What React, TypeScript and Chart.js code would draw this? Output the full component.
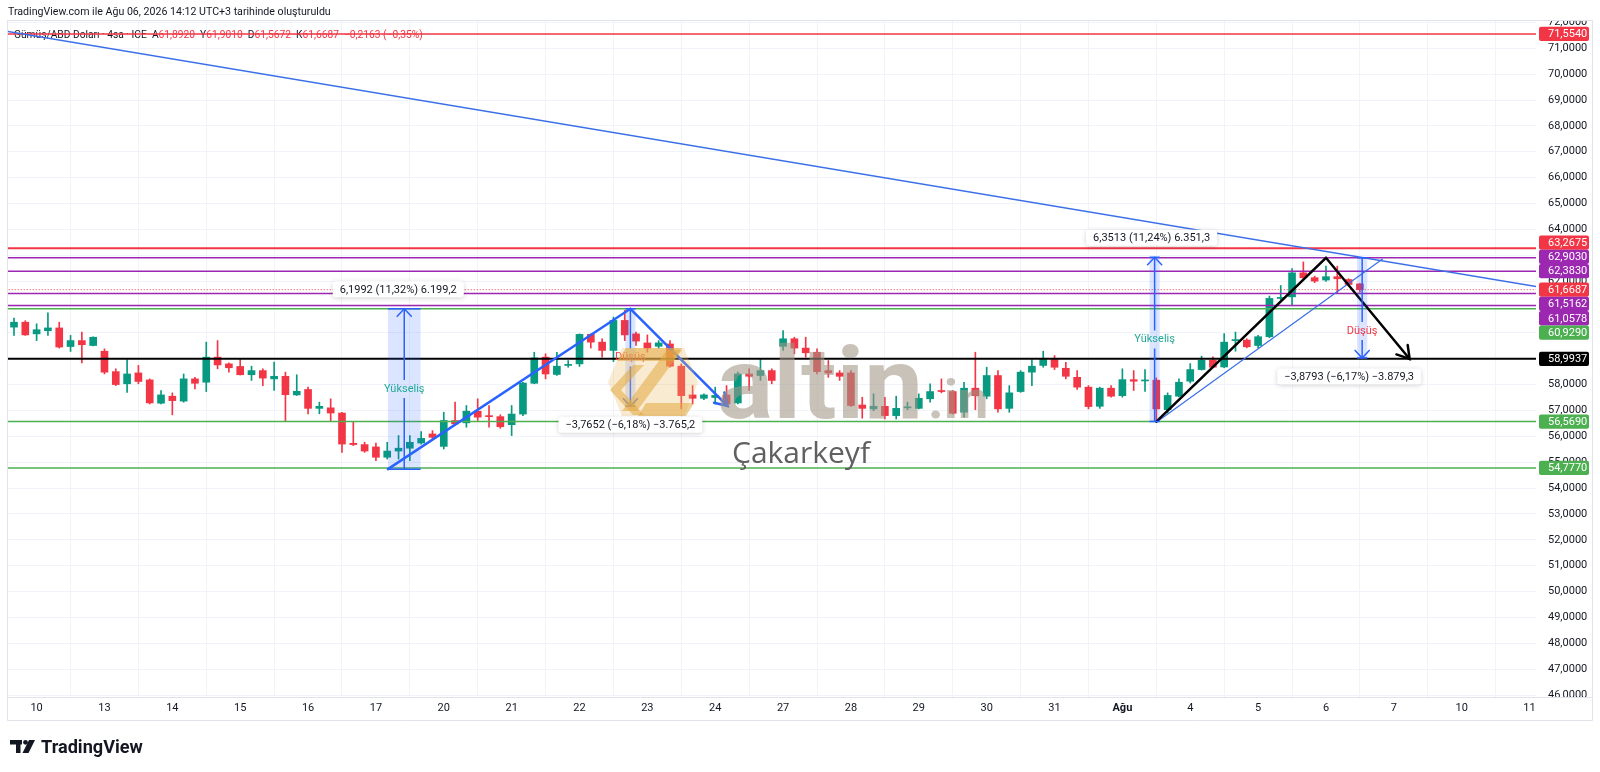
import { useEffect, useRef } from 'react';
import { Chart, registerables } from 'chart.js';

Chart.register(...registerables);

// ---------------- DATA ----------------
const OPEN = [
  60.22, 60.41, 59.96, 60.08, 60.19, 59.47, 59.70, 59.51, 59.29, 58.50,
  58.03, 58.45, 58.18, 57.28, 57.55, 57.36, 58.22, 58.09, 59.06, 58.80,
  58.70, 58.38, 58.54, 58.22, 58.32, 57.60, 57.81, 57.08, 57.10, 56.90,
  55.73, 55.68, 55.59, 55.19, 55.43, 55.54, 55.74, 56.09, 55.61, 56.61,
  56.52, 56.97, 56.78, 56.76, 56.45, 56.86, 58.05, 59.06, 58.39, 58.74,
  58.80, 59.94, 59.64, 59.32, 60.48, 59.96, 59.61, 59.48, 59.57, 58.71,
  57.60, 57.47, 57.50, 57.60, 57.29, 58.41, 58.35, 58.54, 59.48, 59.77,
  59.41, 59.25, 58.54, 58.45, 58.45, 57.21, 57.06, 57.16, 56.80, 57.10,
  57.08, 57.45, 57.77, 57.73, 56.93, 57.86, 57.55, 58.35, 57.08, 57.73,
  58.48, 58.74, 58.97, 58.63, 58.28, 57.90, 57.16, 57.86, 57.57, 58.19,
  58.14, 58.17, 57.03, 57.55, 58.13, 58.58, 58.94, 58.68, 59.70, 59.72,
  59.51, 59.85, 61.33, 61.39, 62.32, 62.13, 62.04, 62.17, 62.06, 61.892,
];
const HIGH = [
  60.57, 60.47, 60.35, 60.77, 60.41, 59.90, 60.03, 59.85, 59.38, 58.61,
  58.97, 58.74, 58.22, 57.77, 57.68, 58.41, 58.28, 59.64, 59.70, 58.84,
  58.99, 58.71, 58.61, 58.87, 58.48, 58.38, 57.90, 57.32, 57.45, 56.93,
  56.54, 55.77, 55.74, 55.77, 56.03, 56.03, 56.18, 56.22, 56.93, 57.32,
  57.19, 57.45, 57.19, 56.83, 57.19, 58.09, 59.25, 59.19, 59.25, 58.93,
  59.96, 59.96, 59.77, 60.61, 60.87, 60.03, 59.92, 59.70, 59.70, 58.80,
  57.96, 57.64, 57.90, 57.96, 58.48, 58.61, 58.99, 58.61, 60.09, 59.83,
  59.83, 59.38, 58.93, 58.54, 58.54, 57.51, 57.64, 57.51, 57.55, 57.32,
  57.64, 58.03, 58.22, 57.77, 58.09, 59.25, 58.67, 58.54, 57.96, 58.54,
  58.97, 59.29, 59.12, 58.86, 58.54, 57.96, 57.90, 57.96, 58.61, 58.54,
  58.58, 58.26, 57.68, 58.22, 58.81, 59.10, 59.07, 59.97, 60.03, 59.77,
  59.90, 61.42, 61.83, 62.48, 62.74, 62.19, 62.58, 62.58, 62.09, 61.901,
];
const LOW = [
  59.90, 59.90, 59.70, 59.90, 59.41, 59.28, 58.84, 59.49, 58.41, 57.96,
  57.70, 58.03, 57.25, 57.25, 56.83, 57.32, 57.83, 57.73, 58.61, 58.48,
  58.37, 58.16, 57.96, 57.77, 56.57, 57.58, 56.87, 56.87, 56.57, 55.38,
  55.64, 55.38, 55.06, 55.12, 55.12, 55.06, 55.70, 55.90, 55.51, 56.42,
  56.35, 56.61, 56.35, 56.31, 56.03, 56.80, 58.03, 58.22, 58.35, 58.67,
  58.70, 59.41, 59.06, 58.89, 59.70, 59.51, 59.25, 59.41, 58.67, 57.06,
  57.25, 57.42, 57.25, 57.19, 57.25, 57.77, 58.16, 58.03, 59.32, 59.19,
  59.06, 58.41, 58.28, 58.16, 57.16, 56.70, 56.99, 56.67, 56.67, 57.03,
  57.06, 57.32, 57.68, 56.86, 56.74, 57.03, 57.45, 56.93, 56.93, 57.70,
  57.96, 58.67, 58.58, 58.22, 57.81, 57.06, 57.08, 57.51, 57.51, 57.77,
  57.74, 56.57, 56.90, 57.52, 58.06, 58.56, 58.64, 58.65, 59.29, 59.42,
  59.42, 59.81, 61.27, 61.06, 62.06, 61.94, 61.99, 61.55, 61.81, 61.5672,
];
const CLOSE = [
  60.41, 59.92, 60.12, 60.19, 59.45, 59.70, 59.54, 59.83, 58.48, 58.00,
  58.41, 58.12, 57.29, 57.60, 57.38, 58.22, 58.05, 59.06, 58.76, 58.65,
  58.38, 58.54, 58.25, 58.32, 57.61, 57.74, 57.08, 57.16, 56.90, 55.70,
  55.68, 55.43, 55.19, 55.43, 55.54, 55.77, 55.92, 55.96, 56.61, 56.48,
  56.97, 56.74, 56.76, 56.37, 56.86, 58.06, 59.03, 58.41, 58.71, 58.78,
  59.94, 59.64, 59.32, 60.48, 59.92, 59.68, 59.41, 59.61, 58.71, 57.57,
  57.47, 57.60, 57.58, 57.25, 58.41, 58.32, 58.54, 58.16, 59.77, 59.41,
  59.23, 58.50, 58.45, 58.32, 57.19, 57.08, 57.16, 56.80, 57.08, 57.13,
  57.47, 57.73, 57.73, 56.89, 57.86, 57.57, 58.35, 57.06, 57.68, 58.48,
  58.71, 58.99, 58.67, 58.32, 57.90, 57.15, 57.86, 57.55, 58.19, 58.13,
  58.17, 57.06, 57.58, 58.09, 58.58, 58.94, 58.67, 59.64, 59.72, 59.46,
  59.85, 61.33, 61.37, 62.32, 62.13, 62.00, 62.17, 62.09, 61.87, 61.6687,
];

// time axis: bar index of the first 4h bar of each day, and its label
const DAY_TICKS = [2, 8, 14, 20, 26, 32, 38, 44, 50, 56, 62, 68, 74, 80, 86, 92, 98, 104, 110, 116, 122, 128, 134];
const DAY_LABELS = ['10', '13', '14', '15', '16', '17', '20', '21', '22', '23', '24', '27', '28', '29', '30', '31', 'Ağu', '4', '5', '6', '7', '10', '11'];

const PRICE_TICKS = [46, 47, 48, 49, 50, 51, 52, 53, 54, 55, 56, 57, 58, 59, 60, 61, 62, 63, 64, 65, 66, 67, 68, 69, 70, 71, 72];

// horizontal levels
const LEVELS = [71.554, 63.2675, 62.903, 62.383, 61.5162, 61.0578, 60.929, 58.9937, 56.569, 54.777];
const LEVEL_COLORS = ['#f23645', '#f23645', '#9c27b0', '#9c27b0', '#9c27b0', '#9c27b0', '#4caf50', '#000000', '#4caf50', '#4caf50'];
const LAST_PRICE = 61.6687;

// drawings (bar index, price)
const LONG_TREND_X = [-0.54, 134.69];
const LONG_TREND_Y = [71.65, 61.78];
const BLUE_ZIG_X = [33.06, 54.5, 63.1];
const BLUE_ZIG_Y = [54.7298, 60.929, 57.17];
const BLACK_ZIG_X = [101, 116, 123.4];
const BLACK_ZIG_Y = [56.569, 62.903, 58.99];
const THIN_LINE_X = [101.1, 121.0];
const THIN_LINE_Y = [56.569, 62.85];

// price range measurements
const MEASURE_X0 = [33.06, 54.05, 100.4, 118.75];
const MEASURE_X1 = [35.95, 54.95, 101.3, 119.65];
const MEASURE_FROM = [54.7298, 60.929, 56.569, 62.903];
const MEASURE_TO = [60.929, 57.1638, 62.9203, 59.0237];
const MEASURE_NAME = ['Yükseliş', 'Düşüş', 'Yükseliş', 'Düşüş'];
const MEASURE_TEXT = ['6,1992 (11,32%) 6.199,2', '−3,7652 (−6,18%) −3.765,2', '6,3513 (11,24%) 6.351,3', '−3,8793 (−6,17%) −3.879,3'];

const HEADER_TEXT = 'TradingView.com ile Ağu 06, 2026 14:12 UTC+3 tarihinde oluşturuldu';
const SYMBOL_TEXT = 'Gümüş/ABD Doları · 4sa · ICE';
const CHANGE_TEXT = '−0,2163 (−0,35%)';

// ---------------- STYLE / LAYOUT ----------------
const FONT = 'Roboto, "Noto Sans", sans-serif';
const GREEN = '#089981';
const RED = '#f23645';
const BLUE = '#2962ff';
const TEXT = '#131722';
const PANE_TOP = 21;
const PANE_BOTTOM = 697;
const PANE_RIGHT = 1536;
const AXIS_RIGHT = 1592;
const TIME_AXIS_BOTTOM = 720;
const X_MIN = -0.53;
const X_MAX = 134.57;
const PX_PER_UNIT = 25.87;
const Y_MAX = 72 + (22.4 - PANE_TOP) / PX_PER_UNIT;
const Y_MIN = 46 - (PANE_BOTTOM - 695) / PX_PER_UNIT;

const fmt4 = (v: number) => v.toFixed(4).replace('.', ',');

function arrowHead(ctx: any, x0: number, y0: number, x1: number, y1: number, len: number, spread: number) {
  const a = Math.atan2(y1 - y0, x1 - x0);
  ctx.beginPath();
  ctx.moveTo(x1 - len * Math.cos(a - spread), y1 - len * Math.sin(a - spread));
  ctx.lineTo(x1, y1);
  ctx.lineTo(x1 - len * Math.cos(a + spread), y1 - len * Math.sin(a + spread));
  ctx.stroke();
}

function fitFont(ctx: any, text: string, size: number, weight: string, maxW: number, family = FONT) {
  ctx.font = `${weight} ${size}px ${family}`;
  const w = ctx.measureText(text).width;
  size = (size * maxW) / w;
  ctx.font = `${weight} ${size}px ${family}`;
  return size;
}

const overlayPlugin = {
  id: 'overlay',
  beforeDatasetsDraw(chart: any) {
    const ctx = chart.ctx;
    const n = CLOSE.length - 1;
    const segs: [string, string][] = [
      [SYMBOL_TEXT, TEXT],
      ['  A', TEXT], [fmt4(OPEN[n]), RED],
      ['  Y', TEXT], [fmt4(HIGH[n]), RED],
      ['  D', TEXT], [fmt4(LOW[n]), RED],
      ['  K', TEXT], [fmt4(CLOSE[n]), RED],
      ['  ' + CHANGE_TEXT, RED],
    ];
    ctx.save();
    const full = segs.map((s) => s[0]).join('');
    fitFont(ctx, full, 10.5, 'normal', 409);
    ctx.textBaseline = 'middle';
    ctx.textAlign = 'left';
    let x = 14;
    for (const [t, c] of segs) {
      ctx.fillStyle = c;
      ctx.fillText(t, x, 35);
      x += ctx.measureText(t).width;
    }
    ctx.restore();
  },
  afterDatasetsDraw(chart: any) {
    const ctx = chart.ctx;
    const xs = chart.scales.x;
    const ys = chart.scales.y;
    const area = chart.chartArea;
    ctx.save();
    ctx.beginPath();
    ctx.rect(area.left, area.top, area.right - area.left, area.bottom - area.top);
    ctx.clip();

    // zigzag arrowheads
    ctx.lineCap = 'round';
    ctx.strokeStyle = BLUE;
    ctx.lineWidth = 2.5;
    {
      const k = BLUE_ZIG_X.length - 1;
      arrowHead(ctx, xs.getPixelForValue(BLUE_ZIG_X[k - 1]), ys.getPixelForValue(BLUE_ZIG_Y[k - 1]),
        xs.getPixelForValue(BLUE_ZIG_X[k]), ys.getPixelForValue(BLUE_ZIG_Y[k]), 14, 0.55);
    }
    ctx.strokeStyle = '#000';
    {
      const k = BLACK_ZIG_X.length - 1;
      arrowHead(ctx, xs.getPixelForValue(BLACK_ZIG_X[k - 1]), ys.getPixelForValue(BLACK_ZIG_Y[k - 1]),
        xs.getPixelForValue(BLACK_ZIG_X[k]), ys.getPixelForValue(BLACK_ZIG_Y[k]), 14, 0.55);
    }

    // measurements: rect, arrow, name
    const fracs = [0.5, 0.5, 0.5, 0.73];
    const boxes: any[] = [];
    for (let i = 0; i < MEASURE_FROM.length; i++) {
      const xa = xs.getPixelForValue(MEASURE_X0[i]);
      const xb = xs.getPixelForValue(MEASURE_X1[i]);
      const yf = ys.getPixelForValue(MEASURE_FROM[i]);
      const yt = ys.getPixelForValue(MEASURE_TO[i]);
      const xc = (xa + xb) / 2;
      const up = MEASURE_TO[i] > MEASURE_FROM[i];
      ctx.fillStyle = 'rgba(41,98,255,0.17)';
      ctx.fillRect(xa, Math.min(yf, yt), xb - xa, Math.abs(yt - yf));
      ctx.strokeStyle = BLUE;
      ctx.lineWidth = 1.5;
      ctx.lineCap = 'butt';
      ctx.beginPath();
      ctx.moveTo(xa, yf); ctx.lineTo(xb, yf);
      ctx.moveTo(xa, yt); ctx.lineTo(xb, yt);
      ctx.stroke();
      const yl = yf + (yt - yf) * fracs[i];
      const gap = 9;
      const dir = up ? -1 : 1;
      ctx.beginPath();
      ctx.moveTo(xc, yf);
      ctx.lineTo(xc, yl - dir * gap);
      ctx.moveTo(xc, yl + dir * gap);
      ctx.lineTo(xc, yt);
      ctx.stroke();
      arrowHead(ctx, xc, yf, xc, yt, 11, 0.75);
      ctx.font = `11px ${FONT}`;
      ctx.textAlign = 'center';
      ctx.textBaseline = 'middle';
      ctx.fillStyle = up ? '#22ab94' : RED;
      ctx.fillText(MEASURE_NAME[i], xc, yl);
      boxes.push({ xc, y: up ? Math.min(yf, yt) - 19.5 : Math.max(yf, yt) + 18.5, text: MEASURE_TEXT[i], i });
    }

    // watermark emblem
    const poly = (pts: number[][], color: string) => {
      ctx.fillStyle = color;
      ctx.beginPath();
      ctx.moveTo(pts[0][0], pts[0][1]);
      for (let k = 1; k < pts.length; k++) ctx.lineTo(pts[k][0], pts[k][1]);
      ctx.closePath();
      ctx.fill();
    };
    const light = 'rgba(234,190,105,0.3)';
    const dark = 'rgba(226,168,62,0.55)';
    poly([[622, 348], [684, 348], [698, 382], [684, 416], [622, 416], [608, 382]], light);
    poly([[626, 348], [682, 348], [673, 361], [617, 361]], dark);
    poly([[667, 350], [682, 350], [637, 411], [622, 411]], dark);
    poly([[633, 365], [644, 365], [621, 390], [644, 415], [633, 415], [610, 390]], dark);
    poly([[646, 403], [694, 403], [686, 416], [638, 416]], dark);

    // watermark text
    ctx.save();
    ctx.fillStyle = 'rgba(160,150,134,0.58)';
    ctx.textBaseline = 'alphabetic';
    ctx.textAlign = 'left';
    ctx.font = `bold 100px ${FONT}`;
    const wA = ctx.measureText('altin').width;
    ctx.translate(717, 418);
    ctx.scale(206 / wA, 1);
    ctx.fillText('altin', 0, 0);
    ctx.restore();
    ctx.save();
    ctx.fillStyle = 'rgba(160,150,134,0.58)';
    ctx.font = `bold 54px ${FONT}`;
    ctx.textAlign = 'left';
    ctx.textBaseline = 'alphabetic';
    ctx.fillText('.in', 928, 418);
    ctx.restore();

    ctx.save();
    ctx.fillStyle = '#606060';
    ctx.textAlign = 'center';
    ctx.textBaseline = 'alphabetic';
    fitFont(ctx, 'Çakarkeyf', 28, 'normal', 138, '"Open Sans", Roboto, sans-serif');
    ctx.fillText('Çakarkeyf', 801, 463);
    ctx.restore();

    // measurement info boxes
    const shifts = [-6, 0, -3, -13];
    for (const b of boxes) {
      ctx.font = `11px ${FONT}`;
      const w = ctx.measureText(b.text).width + 14;
      const h = 16;
      const cx = b.xc + shifts[b.i];
      ctx.save();
      ctx.shadowColor = 'rgba(0,0,0,0.18)';
      ctx.shadowBlur = 5;
      ctx.shadowOffsetY = 1;
      ctx.fillStyle = '#ffffff';
      ctx.beginPath();
      ctx.roundRect(cx - w / 2, b.y - h / 2, w, h, 3);
      ctx.fill();
      ctx.restore();
      ctx.fillStyle = TEXT;
      ctx.textAlign = 'center';
      ctx.textBaseline = 'middle';
      ctx.fillText(b.text, cx, b.y + 0.5);
    }
    ctx.restore();
  },
  afterDraw(chart: any) {
    const ctx = chart.ctx;
    const ys = chart.scales.y;
    ctx.save();
    // clip axis labels outside pane
    ctx.fillStyle = '#ffffff';
    ctx.fillRect(PANE_RIGHT + 1, 0, AXIS_RIGHT - PANE_RIGHT - 1, PANE_TOP);
    ctx.fillRect(PANE_RIGHT + 1, PANE_BOTTOM, AXIS_RIGHT - PANE_RIGHT - 1, TIME_AXIS_BOTTOM - PANE_BOTTOM);

    // level labels on price axis
    const LBL_H = 14.3;
    const items = LEVELS.map((v, i) => ({ v, color: LEVEL_COLORS[i], y: ys.getPixelForValue(v), fixed: false }));
    items.push({ v: LAST_PRICE, color: RED, y: ys.getPixelForValue(LAST_PRICE), fixed: true });
    items.sort((a, b) => a.y - b.y);
    const p = items.findIndex((it) => it.fixed);
    for (let i = p - 1; i >= 0; i--) items[i].y = Math.min(items[i].y, items[i + 1].y - LBL_H);
    for (let i = p + 1; i < items.length; i++) items[i].y = Math.max(items[i].y, items[i - 1].y + LBL_H);
    ctx.font = `11px ${FONT}`;
    ctx.textBaseline = 'middle';
    ctx.textAlign = 'left';
    for (const it of items) {
      ctx.fillStyle = it.color;
      ctx.beginPath();
      ctx.roundRect(PANE_RIGHT + 3, it.y - LBL_H / 2, 50, LBL_H, 2);
      ctx.fill();
      ctx.fillStyle = '#ffffff';
      ctx.fillText(fmt4(it.v), PANE_RIGHT + 12, it.y + 0.5);
    }

    // borders
    ctx.strokeStyle = '#e0e3eb';
    ctx.lineWidth = 1;
    ctx.beginPath();
    ctx.moveTo(7.5, PANE_TOP - 0.5); ctx.lineTo(AXIS_RIGHT + 0.5, PANE_TOP - 0.5);
    ctx.moveTo(7.5, PANE_BOTTOM + 0.5); ctx.lineTo(AXIS_RIGHT + 0.5, PANE_BOTTOM + 0.5);
    ctx.moveTo(7.5, TIME_AXIS_BOTTOM + 0.5); ctx.lineTo(AXIS_RIGHT + 0.5, TIME_AXIS_BOTTOM + 0.5);
    ctx.moveTo(7.5, PANE_TOP - 0.5); ctx.lineTo(7.5, TIME_AXIS_BOTTOM + 0.5);
    ctx.moveTo(AXIS_RIGHT + 0.5, PANE_TOP - 0.5); ctx.lineTo(AXIS_RIGHT + 0.5, TIME_AXIS_BOTTOM + 0.5);
    ctx.stroke();

    // header
    ctx.fillStyle = TEXT;
    ctx.textAlign = 'left';
    ctx.textBaseline = 'middle';
    fitFont(ctx, HEADER_TEXT, 11, 'normal', 323);
    ctx.fillText(HEADER_TEXT, 8, 12.5);

    // TradingView logo
    ctx.fillStyle = '#131722';
    ctx.fillRect(10, 740, 12, 4.5);
    ctx.fillRect(16, 740, 4.5, 13);
    ctx.beginPath();
    ctx.arc(25.5, 742.3, 2.4, 0, Math.PI * 2);
    ctx.fill();
    ctx.beginPath();
    ctx.moveTo(29, 740); ctx.lineTo(35, 740); ctx.lineTo(28.5, 753); ctx.lineTo(22.5, 753);
    ctx.closePath();
    ctx.fill();
    fitFont(ctx, 'TradingView', 18, 'bold', 102);
    ctx.textBaseline = 'alphabetic';
    ctx.fillText('TradingView', 41, 753);
    ctx.restore();
  },
};

export default function App() {
  const ref = useRef<HTMLCanvasElement>(null);
  useEffect(() => {
    const canvas = ref.current;
    if (!canvas) return;
    const idx = CLOSE.map((_, i) => i);
    const colors = idx.map((i) => (CLOSE[i] >= OPEN[i] ? GREEN : RED));
    const levelSets = LEVELS.map((v, i) => ({
      type: 'line',
      data: [{ x: X_MIN - 1, y: v }, { x: X_MAX + 1, y: v }],
      borderColor: LEVEL_COLORS[i],
      borderWidth: i === 1 || i === 7 ? 2 : 1.5,
      pointRadius: 0,
      order: 3,
    }));
    const lineSet = (xsArr: number[], ysArr: number[], color: string, width: number, order: number) => ({
      type: 'line',
      data: xsArr.map((x, i) => ({ x, y: ysArr[i] })),
      borderColor: color,
      borderWidth: width,
      pointRadius: 0,
      tension: 0,
      borderCapStyle: 'round',
      borderJoinStyle: 'miter',
      order,
    });
    const chart = new Chart(canvas, {
      type: 'bar',
      data: {
        datasets: [
          lineSet(BLACK_ZIG_X, BLACK_ZIG_Y, '#000000', 2.5, 0),
          lineSet(BLUE_ZIG_X, BLUE_ZIG_Y, BLUE, 2.5, 0),
          lineSet(THIN_LINE_X, THIN_LINE_Y, '#3a6fe8', 1.2, 1),
          lineSet(LONG_TREND_X, LONG_TREND_Y, '#3a6fe8', 1.5, 1),
          {
            type: 'line',
            data: [{ x: X_MIN - 1, y: LAST_PRICE }, { x: X_MAX + 1, y: LAST_PRICE }],
            borderColor: RED,
            borderWidth: 1,
            borderDash: [1, 2],
            pointRadius: 0,
            order: 2,
          },
          ...levelSets,
          {
            type: 'bar',
            data: idx.map((i) => ({ x: i, y: [OPEN[i], CLOSE[i]] })),
            backgroundColor: colors,
            borderWidth: 0,
            barThickness: 7,
            minBarLength: 1,
            grouped: false,
            order: 8,
          },
          {
            type: 'bar',
            data: idx.map((i) => ({ x: i, y: [LOW[i], HIGH[i]] })),
            backgroundColor: colors,
            borderWidth: 0,
            barThickness: 1,
            grouped: false,
            order: 9,
          },
        ] as any,
      },
      options: {
        responsive: false,
        animation: false,
        events: [],
        layout: { padding: { left: 8, top: PANE_TOP, right: 1600 - AXIS_RIGHT, bottom: 772 - TIME_AXIS_BOTTOM } },
        plugins: { legend: { display: false }, tooltip: { enabled: false } },
        scales: {
          x: {
            type: 'linear',
            min: X_MIN,
            max: X_MAX,
            offset: false,
            afterBuildTicks: (s: any) => { s.ticks = DAY_TICKS.map((v) => ({ value: v })); },
            afterFit: (s: any) => { s.height = TIME_AXIS_BOTTOM - PANE_BOTTOM; },
            grid: { color: '#f0f3fa', drawTicks: false, lineWidth: 1 },
            border: { display: false },
            ticks: {
              autoSkip: false,
              maxRotation: 0,
              padding: 5,
              color: TEXT,
              font: (c: any) => ({ family: FONT, size: 11, weight: c.tick && DAY_LABELS[DAY_TICKS.indexOf(c.tick.value)] === 'Ağu' ? 'bold' : 'normal' }),
              callback: (v: any) => DAY_LABELS[DAY_TICKS.indexOf(Number(v))] ?? '',
            },
          },
          y: {
            type: 'linear',
            position: 'right',
            min: Y_MIN,
            max: Y_MAX,
            afterBuildTicks: (s: any) => { s.ticks = PRICE_TICKS.map((v) => ({ value: v })); },
            afterFit: (s: any) => { s.width = AXIS_RIGHT - PANE_RIGHT; },
            grid: { color: '#f0f3fa', drawTicks: false, lineWidth: 1 },
            border: { display: false },
            ticks: {
              padding: 12,
              color: TEXT,
              font: { family: FONT, size: 11 },
              callback: (v: any) => fmt4(Number(v)),
            },
          },
        },
      } as any,
      plugins: [overlayPlugin],
    });
    return () => chart.destroy();
  }, []);
  return (
    <div style={{ position: 'fixed', left: 0, top: 0, width: 1600, height: 772, background: '#ffffff' }}>
      <canvas ref={ref} width={1600} height={772} style={{ display: 'block', width: 1600, height: 772 }} />
    </div>
  );
}
